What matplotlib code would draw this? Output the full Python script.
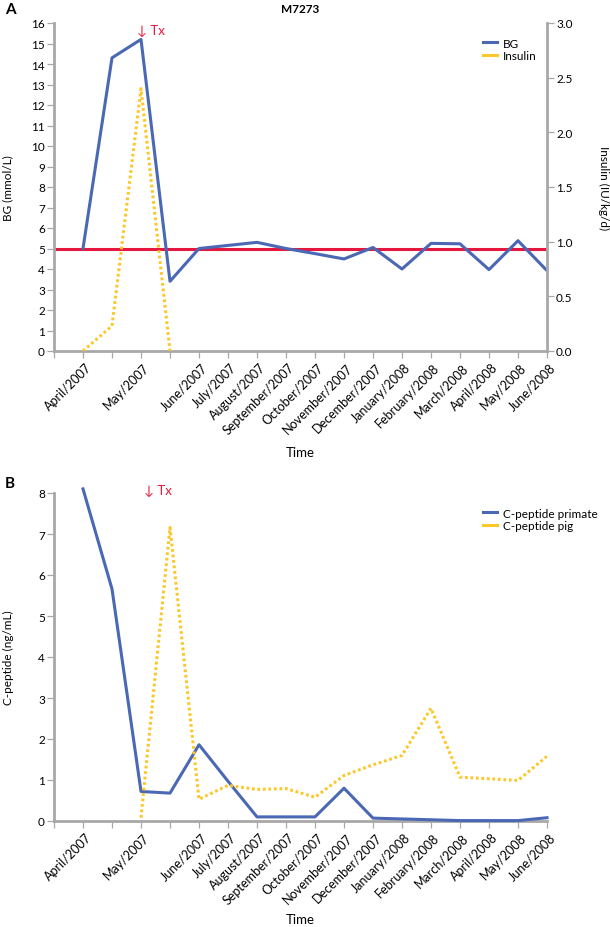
import matplotlib
matplotlib.use('Agg')
import numpy as np
from matplotlib import pyplot as plt

plt.rcParams['font.family'] = ['Lato', 'DejaVu Sans']
plt.rcParams['font.size'] = 8.5

# tick slots along the time axis (0 = origin), labels sit on some of them
month_labels = ['April/2007', 'May/2007', 'June/2007', 'July/2007', 'August/2007',
                'September/2007', 'October/2007', 'November/2007', 'December/2007',
                'January/2008', 'February/2008', 'March/2008', 'April/2008',
                'May/2008', 'June/2008']
label_pos = [1, 3, 5, 6, 7, 8, 9, 10, 11, 12, 13, 14, 15, 16, 17]

# panel A
bg_x = [1, 2, 3, 4, 5, 6, 7, 8, 9, 10, 11, 12, 13, 14, 15, 16, 17]
bg = [5.0, 14.3, 15.2, 3.4, 5.0, 5.15, 5.3, 5.0, 4.75, 4.49, 5.05, 4.0, 5.25, 5.23, 3.97, 5.38, 3.92]
ins_x = [1, 2, 3, 4]
insulin = [0.0, 0.23, 2.40, 0.0]
bg_target = 5

# panel B
cp_x = [1, 2, 3, 4, 5, 6, 7, 8, 9, 10, 11, 12, 13, 14, 15, 16, 17]
cp_primate = [8.1, 5.66, 0.72, 0.68, 1.86, 0.97, 0.1, 0.1, 0.1, 0.8, 0.07, 0.05, 0.03, 0.01, 0.01, 0.01, 0.08]
pig_x = [3, 4, 5, 6, 7, 8, 9, 10, 11, 12, 13, 14, 15, 16, 17]
cp_pig = [0.08, 7.16, 0.53, 0.87, 0.77, 0.79, 0.58, 1.11, 1.37, 1.6, 2.75, 1.07, 1.03, 0.99, 1.58]

blue = '#4a68b4'
yellow = '#fbc82a'
red = '#e5173f'
grey = '#a8a8a8'
dots = (0, (0.9, 0.9))


def style_axis(ax, right=False):
    for s in ['top', 'right', 'left', 'bottom']:
        ax.spines[s].set_visible(False)
    ax.spines['left'].set_visible(not right)
    ax.spines['bottom'].set_visible(not right)
    ax.spines['right'].set_visible(right)
    for s in ax.spines.values():
        s.set_color(grey)
        s.set_linewidth(2.0)
    ax.tick_params(color=grey, length=5, width=0.9, pad=1.5)
    ax.set_xlim(0, 17)
    ax.set_xticks(range(18))
    ax.set_xticklabels([''] * 18)
    if right:
        return
    for p, lab in zip(label_pos, month_labels):
        ax.text(p + 0.08, -0.03, lab, transform=ax.get_xaxis_transform(),
                rotation=45, ha='right', va='top', rotation_mode='anchor', fontsize=9)


fig = plt.figure(figsize=(6.1, 9.28), dpi=100)

# ---- A ----
ax1 = fig.add_axes([54 / 610, 1 - 352 / 928, 493 / 610, 328 / 928])
style_axis(ax1)
ax1.set_ylim(0, 16)
ax1.set_yticks(range(17))
ax1.axhline(bg_target, color=red, lw=2.2, zorder=2)
ax1.plot(bg_x, bg, color=blue, lw=2.2, zorder=3)
ax1.set_ylabel('BG (mmol/L)', va='center')
ax1.yaxis.set_label_coords(-0.093, 0.5)
ax1.set_xlabel('Time', fontsize=9.5, va='center')
ax1.xaxis.set_label_coords(0.5, -0.308)
ax1.set_title('M7273', fontsize=8.5, fontweight='bold', pad=8)
ax1.text(2.85, 15.65, '\u2193 Tx', color=red, fontsize=9.5, ha='left', va='center')

ax2 = ax1.twinx()
style_axis(ax2, right=True)
ax2.set_ylim(0, 3.0)
ax2.set_yticks(np.arange(0, 3.01, 0.5))
ax2.set_yticklabels(['%.1f' % v for v in np.arange(0, 3.01, 0.5)])
ax2.tick_params(axis='x', length=0)
ax2.plot(ins_x, insulin, color=yellow, lw=2.2, ls=dots, zorder=3)
ax2.set_ylabel('Insulin (IU/kg/d)', rotation=270, va='center')
ax2.yaxis.set_label_coords(1.114, 0.5)
leg_lines = [plt.Line2D([], [], color=blue, lw=2.2), plt.Line2D([], [], color=yellow, lw=2.2)]
ax2.legend(leg_lines, ['BG', 'Insulin'], loc='upper left', bbox_to_anchor=(0.86, 0.97),
           frameon=False, handlelength=1.2, handletextpad=0.5, labelspacing=0.1,
           fontsize=8.5, borderaxespad=0)

# ---- B ----
ax3 = fig.add_axes([54 / 610, 1 - 822 / 928, 493 / 610, 328 / 928])
style_axis(ax3)
ax3.set_ylim(0, 8)
ax3.set_yticks(range(9))
ax3.plot(cp_x, cp_primate, color=blue, lw=2.2, zorder=3, clip_on=False)
ax3.plot(pig_x, cp_pig, color=yellow, lw=2.2, ls=dots, zorder=3)
ax3.set_ylabel('C-peptide (ng/mL)', va='center')
ax3.yaxis.set_label_coords(-0.093, 0.5)
ax3.set_xlabel('Time', fontsize=9.5, va='center')
ax3.xaxis.set_label_coords(0.5, -0.298)
ax3.text(3.1, 8.07, '\u2193 Tx', color=red, fontsize=9.5, ha='left', va='center')
leg_lines = [plt.Line2D([], [], color=blue, lw=2.2), plt.Line2D([], [], color=yellow, lw=2.2)]
ax3.legend(leg_lines, ['C-peptide primate', 'C-peptide pig'], loc='upper left',
           bbox_to_anchor=(0.86, 0.97), frameon=False, handlelength=1.2, handletextpad=0.5,
           labelspacing=0.1, fontsize=8.5, borderaxespad=0)

fig.text(5 / 610, 1 - 10 / 928, 'A', fontsize=11, fontweight='bold', va='center')
fig.text(5 / 610, 1 - 484 / 928, 'B', fontsize=11, fontweight='bold', va='center')

fig.savefig('out.png', dpi=100)
